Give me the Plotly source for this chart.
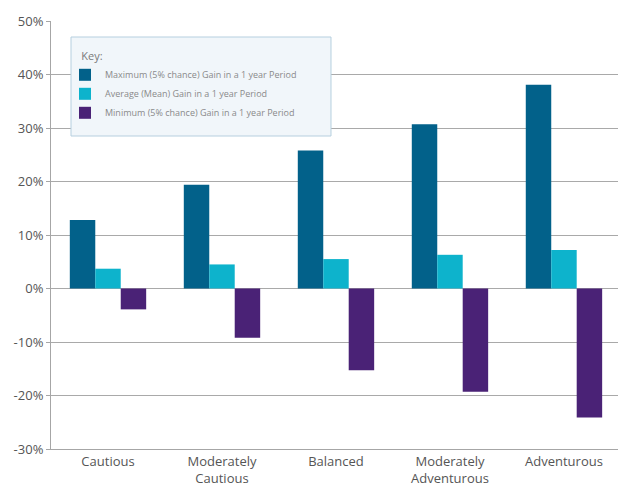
import plotly.graph_objects as go

categories = ["Cautious", "Moderately<br>Cautious", "Balanced", "Moderately<br>Adventurous", "Adventurous"]
max_gain = [0.128, 0.194, 0.258, 0.307, 0.381]
avg_gain = [0.037, 0.045, 0.055, 0.063, 0.072]
min_gain = [-0.039, -0.092, -0.153, -0.193, -0.241]
series_names = [
    "Maximum (5% chance) Gain in a 1 year Period",
    "Average (Mean) Gain in a 1 year Period",
    "Minimum (5% chance) Gain in a 1 year Period",
]
colors = ["#02618a", "#0db3cc", "#4a2276"]
y_ticks = [-0.3, -0.2, -0.1, 0, 0.1, 0.2, 0.3, 0.4, 0.5]
y_tick_labels = ["-30%", "-20%", "-10%", "0%", "10%", "20%", "30%", "40%", "50%"]

FONT = "Open Sans"

fig = go.Figure()
for name, vals, col in zip(series_names, [max_gain, avg_gain, min_gain], colors):
    fig.add_trace(go.Bar(x=categories, y=vals, name=name, marker=dict(color=col, line=dict(width=0))))

# legend key box (decoration)
fig.add_shape(
    type="rect", xref="paper", yref="paper",
    x0=0.0353, x1=0.4938, y0=0.7313, y1=0.9626,
    fillcolor="#f1f6fa", line=dict(color="#b6cfdf", width=1), layer="above",
)

fig.update_layout(
    width=618,
    height=485,
    margin=dict(l=51, r=0, t=21, b=36),
    paper_bgcolor="white",
    plot_bgcolor="white",
    barmode="group",
    bargap=0.33,
    bargroupgap=0,
    font=dict(family=FONT, color="#555555", size=13),
    legend=dict(
        title=dict(text="\u00a0\u00a0\u00a0\u00a0\u00a0Key:", font=dict(size=11, color="#7a7a7a"), side="top"),
        x=0.0247, y=0.9416, xanchor="left", yanchor="top",
        bgcolor="rgba(0,0,0,0)",
        borderwidth=0,
        font=dict(size=9, color="#8a8a8a"),
        tracegroupgap=0,
    ),
    xaxis=dict(
        range=[-0.5, 4.474],
        showline=True, linecolor="#a6a6a6", linewidth=1,
        showgrid=False, ticks="",
        automargin=False,
        tickfont=dict(size=13, color="#555555"),
    ),
    yaxis=dict(
        range=[-0.3, 0.5],
        tickvals=y_ticks,
        ticktext=y_tick_labels,
        automargin=False,
        showgrid=True, gridcolor="#a9a9a9", gridwidth=1,
        zeroline=True, zerolinecolor="#a9a9a9", zerolinewidth=1,
        showline=True, linecolor="#a6a6a6", linewidth=1,
        ticks="outside", ticklen=4, tickcolor="#a6a6a6",
        tickfont=dict(size=13, color="#555555"),
    ),
)

fig.write_html("out.html")
